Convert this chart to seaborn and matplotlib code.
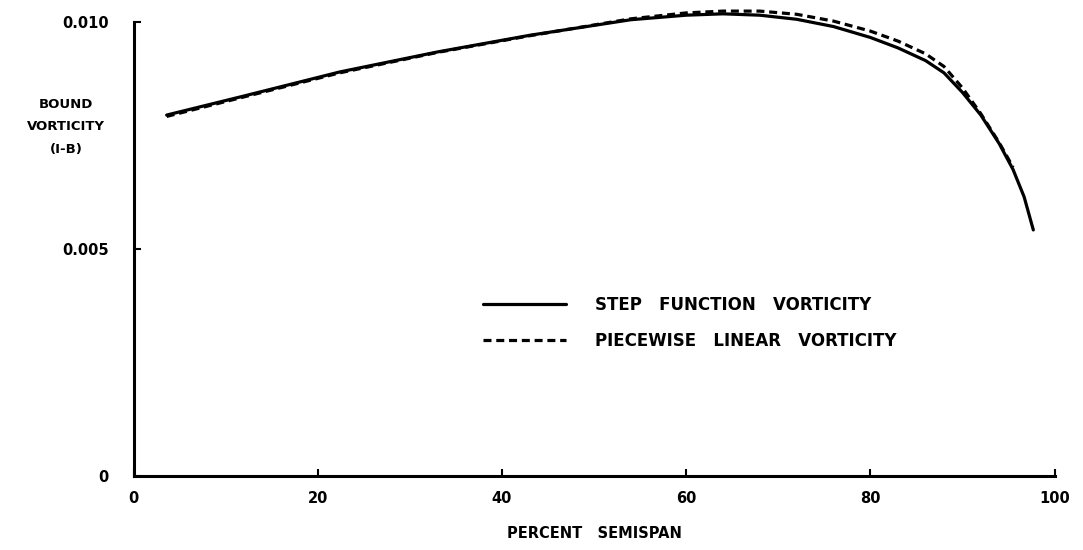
import matplotlib
matplotlib.use("Agg")
import matplotlib.pyplot as plt
import seaborn as sns
import pandas as pd

# ---- data ----
step_x = [3.6, 11.6, 22.4, 33.0, 43.1, 54.0, 60.0, 64.0, 68.0, 72.0, 76.0,
          80.0, 83.0, 86.0, 88.0, 90.0, 92.0, 94.0, 95.5, 96.7, 97.7]
step_y = [0.00795, 0.00835, 0.00890, 0.00934, 0.00971, 0.01005, 0.01015,
          0.01018, 0.01015, 0.01006, 0.00990, 0.00966, 0.00943, 0.00915,
          0.00888, 0.00845, 0.00795, 0.00732, 0.00675, 0.00615, 0.00542]

lin_x = [3.6, 11.6, 22.4, 33.0, 43.1, 54.0, 60.0, 64.0, 68.0, 72.0, 76.0,
         80.0, 83.0, 86.0, 88.0, 90.0, 92.0, 94.0, 95.5]
lin_y = [0.00792, 0.00833, 0.00888, 0.00933, 0.00970, 0.01007, 0.01020,
         0.01024, 0.01024, 0.01017, 0.01002, 0.00980, 0.00958, 0.00930,
         0.00902, 0.00855, 0.00798, 0.00734, 0.00680]

x_ticks = [0, 20, 40, 60, 80, 100]
x_tick_labels = ["0", "20", "40", "60", "80", "100"]
y_ticks = [0.0, 0.005, 0.010]
y_tick_labels = ["0", "0.005", "0.010"]

series_labels = ["STEP   FUNCTION   VORTICITY", "PIECEWISE   LINEAR   VORTICITY"]

sns.set_theme(style="white")
plt.rcParams["font.family"] = ["DejaVu Sans"]
plt.rcParams["font.weight"] = "bold"
plt.rcParams["text.color"] = "black"
plt.rcParams["axes.labelcolor"] = "black"

fig = plt.figure(figsize=(10.83, 5.5), dpi=100)
ax = fig.add_axes([133.5 / 1083, 1 - 476 / 550, 921 / 1083, 454 / 550])

df_step = pd.DataFrame({"x": step_x, "y": step_y})
df_lin = pd.DataFrame({"x": lin_x, "y": lin_y})

sns.lineplot(data=df_step, x="x", y="y", ax=ax, color="black", lw=2.3,
             label=series_labels[0], sort=False)
sns.lineplot(data=df_lin, x="x", y="y", ax=ax, color="black", lw=2.3,
             linestyle=(0, (2.5, 1.5)), label=series_labels[1], sort=False)
for ln in ax.lines:
    ln.set_clip_on(False)

ax.set_xlim(0, 100)
ax.set_ylim(0, 0.010)
ax.set_xticks(x_ticks)
ax.set_xticklabels(x_tick_labels, fontsize=10.5, fontweight="bold")
ax.set_yticks(y_ticks)
ax.set_yticklabels(y_tick_labels, fontsize=10.5, fontweight="bold")
ax.tick_params(axis="x", direction="in", length=5, width=1.5, pad=11,
               colors="black", bottom=True)
ax.tick_params(axis="y", direction="in", length=5, width=1.5, pad=18,
               colors="black", left=True)

for s in ["top", "right"]:
    ax.spines[s].set_visible(False)
for s in ["left", "bottom"]:
    ax.spines[s].set_color("black")
    ax.spines[s].set_linewidth(2.2)

ax.set_xlabel("PERCENT   SEMISPAN", fontsize=10.5, fontweight="bold",
              labelpad=14, color="black")
ax.set_ylabel("")
fig.text(66 / 1083, 1 - 127 / 550, "BOUND\nVORTICITY\n(I-B)", ha="center",
         va="center", fontsize=9.5, fontweight="bold", linespacing=1.9,
         color="black")

leg = ax.legend(loc="center left", bbox_to_anchor=(0.3795, 0.337),
                frameon=False, fontsize=12, handlelength=5.0,
                handletextpad=1.7, labelspacing=1.05, borderpad=0,
                borderaxespad=0)
for t in leg.get_texts():
    t.set_fontweight("bold")
    t.set_color("black")

fig.savefig("out.png", dpi=100, facecolor="white")
